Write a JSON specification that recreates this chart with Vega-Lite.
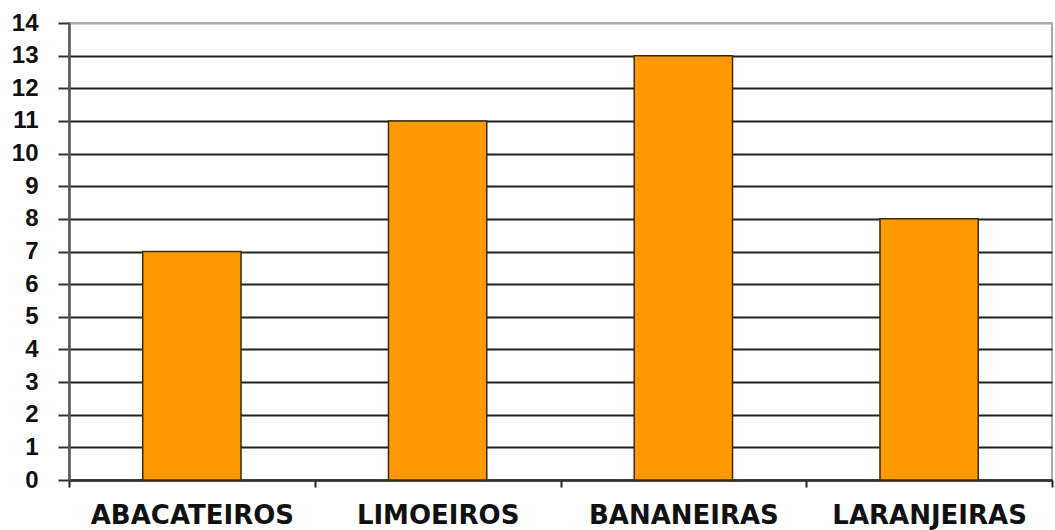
{
  "$schema": "https://vega.github.io/schema/vega-lite/v6.json",
  "width": 983,
  "height": 457,
  "autosize": "none",
  "padding": {"left": 69, "top": 23, "right": 3, "bottom": 50},
  "background": "white",
  "config": {
    "view": {"stroke": "#aaaaaa", "strokeWidth": 2},
    "font": "DejaVu Sans"
  },
  "data": {
    "values": [
      {"arvore": "ABACATEIROS", "quantidade": 7},
      {"arvore": "LIMOEIROS", "quantidade": 11},
      {"arvore": "BANANEIRAS", "quantidade": 13},
      {"arvore": "LARANJEIRAS", "quantidade": 8}
    ]
  },
  "mark": {
    "type": "bar",
    "color": "#FF9900",
    "stroke": "#3a2a10",
    "strokeWidth": 1.5,
    "width": {"band": 0.4}
  },
  "encoding": {
    "x": {
      "field": "arvore",
      "type": "nominal",
      "sort": null,
      "scale": {"paddingInner": 0, "paddingOuter": 0},
      "axis": {
        "title": null,
        "labelAngle": 0,
        "labelFont": "DejaVu Sans",
        "labelFontWeight": "bold",
        "labelFontSize": 26,
        "labelLimit": 0,
        "labelOverlap": false,
        "labelColor": "#111111",
        "labelPadding": 15,
        "tickBand": "extent",
        "tickSize": 7,
        "tickColor": "#222222",
        "tickWidth": 2,
        "domainColor": "#333333",
        "domainWidth": 2.5,
        "grid": false
      }
    },
    "y": {
      "field": "quantidade",
      "type": "quantitative",
      "scale": {"domain": [0, 14], "nice": false},
      "axis": {
        "title": null,
        "values": [0,1,2,3,4,5,6,7,8,9,10,11,12,13,14],
        "labelFont": "Liberation Sans",
        "labelFontWeight": "bold",
        "labelFontSize": 24,
        "labelColor": "#111111",
        "labelPadding": 20,
        "tickSize": 11,
        "tickColor": "#333333",
        "tickWidth": 2,
        "domainColor": "#555555",
        "domainWidth": 2.5,
        "grid": true,
        "gridColor": {"condition": {"test": "datum.value == 14", "value": "#aaaaaa"}, "value": "#222222"},
        "gridWidth": 2,
        "gridOpacity": 1
      }
    }
  }
}
